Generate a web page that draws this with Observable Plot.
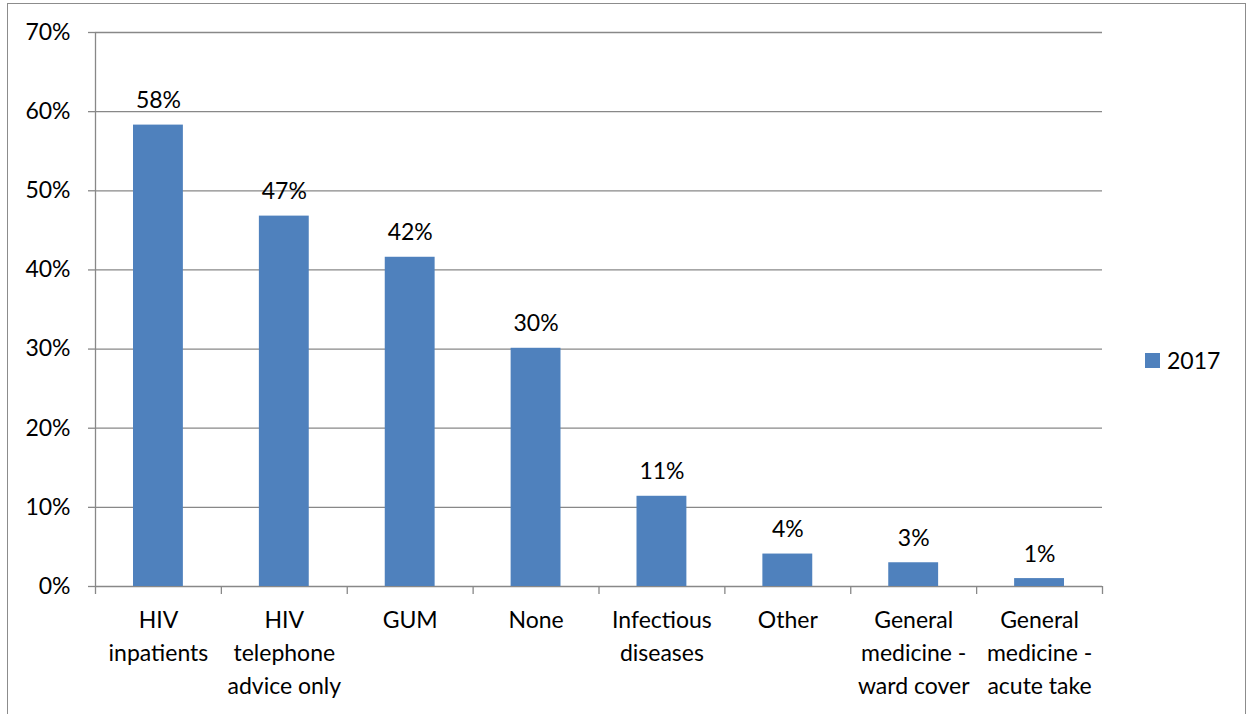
<!DOCTYPE html>
<html><head><meta charset="utf-8">
<script src="https://cdn.jsdelivr.net/npm/d3@7"></script>
<script src="https://cdn.jsdelivr.net/npm/@observablehq/plot@0.6"></script>
<style>
body{margin:0;background:#fff;font-family:Lato,sans-serif;}
#wrap{position:relative;width:1246px;height:714px;overflow:hidden;}
#frame{position:absolute;left:7px;top:3px;width:1237px;height:800px;border:1px solid #8c8c8c;}
#chart{position:absolute;left:0;top:0;}
#legend{position:absolute;left:1145px;top:346px;display:flex;align-items:center;font-size:23px;color:#000;}
#legend .sw{display:inline-block;width:15px;height:15px;background:#4F81BD;margin-right:7px;}
</style></head><body>
<div id="wrap"><div id="frame"></div><div id="chart"></div><div id="legend"><span class="sw"></span><span>2017</span></div></div>
<script>
const categories = ["HIV\ninpatients", "HIV\ntelephone\nadvice only", "GUM", "None", "Infectious\ndiseases", "Other", "General\nmedicine -\nward cover", "General\nmedicine -\nacute take"];
const values = [58.3, 46.8, 41.6, 30.1, 11.4, 4.1, 3.0, 1.0];
const valueLabels = ["58%", "47%", "42%", "30%", "11%", "4%", "3%", "1%"];
const yTicks = [0, 10, 20, 30, 40, 50, 60, 70];

const data = categories.map((c, i) => ({i, cat: c, v: values[i], lab: valueLabels[i]}));
const grid = "#888888";
const fs = 23;

const chart = Plot.plot({
  width: 1246, height: 714,
  marginLeft: 95, marginRight: 144, marginTop: 32, marginBottom: 128,
  style: {fontFamily: "Lato, sans-serif", background: "transparent"},
  x: {type: "linear", domain: [0, categories.length]},
  y: {domain: [0, 70], label: null},
  marks: [
    Plot.gridY({ticks: yTicks, stroke: grid, strokeOpacity: 1, strokeWidth: 1.3}),
    Plot.axisY({ticks: yTicks, tickSize: 7, tickPadding: 18, tickFormat: d => d + "%", stroke: grid, fill: "black", strokeOpacity: 1, strokeWidth: 1.3, fontSize: fs, label: null}),
    Plot.axisX({ticks: d3.range(0, categories.length + 1), tickSize: 8, tickFormat: () => "", stroke: grid, strokeOpacity: 1, strokeWidth: 1.3, label: null}),
    Plot.ruleX([0], {stroke: grid, strokeWidth: 1.3}),
    Plot.rectY(data, {x1: "i", x2: d => d.i + 1, y: "v", fill: "#4F81BD", insetLeft: 38, insetRight: 38}),
    Plot.text(data, {x: d => d.i + 0.5, y: "v", text: "lab", dy: -17, lineAnchor: "bottom", fontSize: fs, fill: "black"}),
    Plot.text(data, {x: d => d.i + 0.5, y: 0, text: "cat", dy: 18, lineAnchor: "top", lineHeight: 1.43, fontSize: fs, fill: "black"})
  ]
});
document.getElementById("chart").appendChild(chart);
</script>
</body></html>
